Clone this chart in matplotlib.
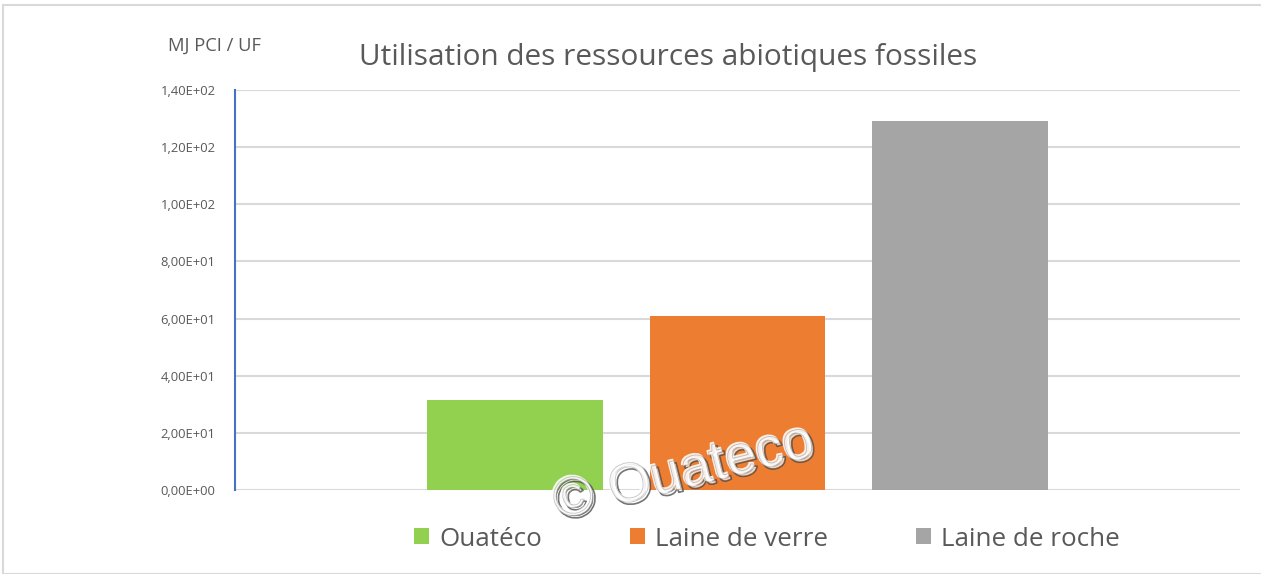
import matplotlib.pyplot as plt
import matplotlib.patheffects as pe
from matplotlib.patches import Rectangle

# data
materials = ["Ouatéco", "Laine de verre", "Laine de roche"]
values = [31.5, 60.9, 129.2]
colors = ["#92D050", "#ED7D31", "#A5A5A5"]
yticks = [0, 20, 40, 60, 80, 100, 120, 140]
ytick_labels = ["0,00E+00", "2,00E+01", "4,00E+01", "6,00E+01",
                "8,00E+01", "1,00E+02", "1,20E+02", "1,40E+02"]

plt.rcParams["font.family"] = ["Open Sans", "DejaVu Sans"]

fig = plt.figure(figsize=(12.61, 5.74), dpi=100)
W, H = 1261, 574
ax = fig.add_axes([235 / W, 1 - 490 / H, (1240 - 235) / W, 400 / H])

# clustered bars, one category
step = 0.2214
width = 0.175
for i, (name, v, c) in enumerate(zip(materials, values, colors)):
    ax.bar(0.5 + (i - 1) * step, v, width=width, color=c, label=name, zorder=3)

ax.set_xlim(0, 1)
ax.set_ylim(0, 140)
ax.set_yticks(yticks)
ax.set_yticklabels(ytick_labels, fontsize=9.4, color="#595959")
ax.set_xticks([])
ax.grid(axis="y", color="#D9D9D9", linewidth=1.5, zorder=0)
ax.tick_params(axis="y", length=0, pad=14)
for s in ["top", "right", "bottom"]:
    ax.spines[s].set_visible(False)
ax.spines["left"].set_color("#4472C4")
ax.spines["left"].set_linewidth(1.5)
ax.spines["left"].set_zorder(4)

fig.text(668 / W, 1 - 58 / H, "Utilisation des ressources abiotiques fossiles",
         ha="center", va="center", fontsize=21.4, color="#595959")
fig.text(168 / W, 1 - 46 / H, "MJ PCI / UF", ha="left", va="center",
         fontsize=13.2, color="#595959")

leg = fig.legend(loc="center", bbox_to_anchor=(767 / W, 1 - 539 / H), ncol=3,
                 frameon=False, fontsize=18.7, handlelength=0.58, handleheight=0.58,
                 handletextpad=0.38, columnspacing=3.4, labelcolor="#595959")

# embossed watermark
fig.text(684 / W, 1 - 474 / H, "© Ouateco", ha="center", va="center",
         fontsize=40, rotation=14, color="white", alpha=0.0,
         family=["Liberation Sans"],
         path_effects=[pe.Stroke(linewidth=1.2, foreground="#3a3a3a", alpha=0.7,
                                 offset=(1.5, -1.5)),
                       pe.Stroke(linewidth=1.0, foreground="white", alpha=0.8,
                                 offset=(-1, 1)),
                       pe.Stroke(linewidth=0.6, foreground="#8a8a8a", alpha=0.5)])

# outer chart border
fig.patches.append(Rectangle((3 / W, 0), 1.2, 1 - 5 / H, transform=fig.transFigure,
                             fill=False, edgecolor="#D9D9D9", linewidth=1.5))

fig.savefig("out.png", dpi=100)
